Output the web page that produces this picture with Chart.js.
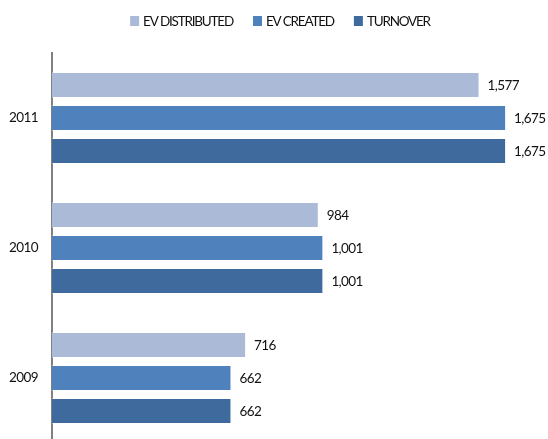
<!DOCTYPE html>
<html>
<head>
<meta charset="utf-8">
<script src="https://cdn.jsdelivr.net/npm/chart.js@4.4.0/dist/chart.umd.min.js"></script>
<style>
html,body{margin:0;padding:0;background:#fff;overflow:hidden;}
#wrap{width:548px;height:439px;overflow:hidden;position:relative;}
#box{position:absolute;left:0;top:0;width:548px;height:445px;}
canvas{display:block;}
</style>
</head>
<body>
<div id="wrap"><div id="box"><canvas id="c"></canvas></div></div>
<script>
const categories = ["2011", "2010", "2009"];
const evDistributed = [1577, 984, 716];
const evCreated = [1675, 1001, 662];
const turnover = [1675, 1001, 662];
const seriesNames = ["EV DISTRIBUTED", "EV CREATED", "TURNOVER"];
const seriesColors = ["#AABAD7", "#4F81BD", "#3F6A9D"];

const FONT = "Lato, 'DejaVu Sans Condensed', sans-serif";

const spacing = {
  id: 'spacing',
  beforeDraw(chart) { chart.ctx.letterSpacing = '-0.6px'; }
};

const customLegend = {
  id: 'customLegend',
  afterDraw(chart) {
    const ctx = chart.ctx;
    ctx.save();
    ctx.font = "13.5px " + FONT;
    ctx.letterSpacing = '-1.2px';
    ctx.textBaseline = 'middle';
    ctx.textAlign = 'left';
    const box = 10, gap = 3, itemGap = 20, cy = 21;
    const widths = seriesNames.map(n => ctx.measureText(n).width);
    const total = widths.reduce((a, w) => a + box + gap + w, 0) + itemGap * (seriesNames.length - 1);
    let x = 280 - total / 2;
    seriesNames.forEach((n, i) => {
      ctx.fillStyle = seriesColors[i];
      ctx.fillRect(x, cy - box / 2, box - 1, box);
      ctx.fillStyle = '#111';
      ctx.fillText(n, x + box + gap, cy + 1);
      x += box + gap + widths[i] + itemGap;
    });
    ctx.restore();
  }
};

const valueLabels = {
  id: 'valueLabels',
  afterDatasetsDraw(chart) {
    const ctx = chart.ctx;
    ctx.save();
    ctx.font = "13.5px " + FONT;
    ctx.letterSpacing = '-0.6px';
    ctx.fillStyle = "#111";
    ctx.textBaseline = "middle";
    ctx.textAlign = "left";
    chart.data.datasets.forEach((ds, i) => {
      const meta = chart.getDatasetMeta(i);
      meta.data.forEach((bar, j) => {
        ctx.fillText(ds.data[j].toLocaleString('en-US'), bar.x + 8, bar.y + 1);
      });
    });
    ctx.restore();
  }
};

new Chart(document.getElementById('c'), {
  type: 'bar',
  data: {
    labels: categories,
    datasets: [
      { label: seriesNames[0], data: evDistributed, backgroundColor: seriesColors[0], borderColor: 'rgba(255,255,255,0.35)', borderWidth: 1 },
      { label: seriesNames[1], data: evCreated, backgroundColor: seriesColors[1], borderColor: 'rgba(255,255,255,0.35)', borderWidth: 1 },
      { label: seriesNames[2], data: turnover, backgroundColor: seriesColors[2], borderColor: 'rgba(255,255,255,0.35)', borderWidth: 1 }
    ]
  },
  options: {
    indexAxis: 'y',
    responsive: true,
    maintainAspectRatio: false,
    animation: false,
    categoryPercentage: 0.76,
    barPercentage: 0.79,
    layout: { padding: { top: 53, right: 8, bottom: 2, left: 0 } },
    plugins: {
      legend: { display: false },
      tooltip: { enabled: false }
    },
    scales: {
      x: {
        display: false,
        min: 0,
        max: 1800
      },
      y: {
        grid: { display: false, drawTicks: false },
        border: { display: true, color: '#808080', width: 2 },
        ticks: { color: '#111', padding: 14, font: { size: 13.5, family: FONT } },
        afterFit(scale) {
          scale.width = 52;
          scale.paddingTop = 0;
          scale.paddingBottom = 0;
        }
      }
    }
  },
  plugins: [spacing, valueLabels, customLegend]
});
</script>
</body>
</html>
